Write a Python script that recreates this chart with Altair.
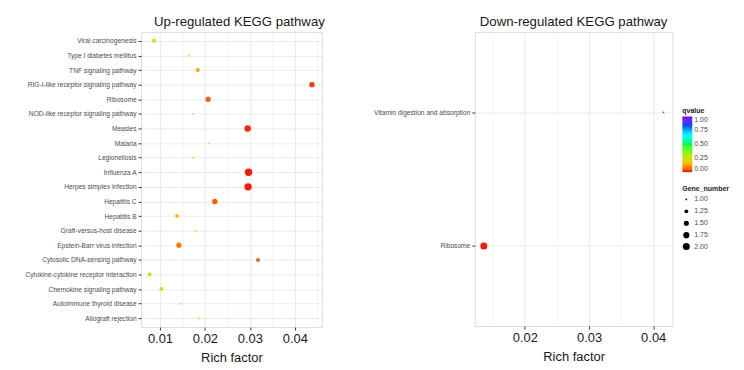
import altair as alt
import pandas as pd

FONT = "Liberation Sans"

# ---- Up-regulated (left panel), listed top to bottom ----
up_terms = [
    "Viral carcinogenesis", "Type I diabetes mellitus", "TNF signaling pathway",
    "RIG-I-like receptor signaling pathway", "Ribosome", "NOD-like receptor signaling pathway",
    "Measles", "Malaria", "Legionellosis", "Influenza A", "Herpes simplex infection",
    "Hepatitis C", "Hepatitis B", "Graft-versus-host disease", "Epstein-Barr virus infection",
    "Cytosolic DNA-sensing pathway", "Cytokine-cytokine receptor interaction",
    "Chemokine signaling pathway", "Autoimmune thyroid disease", "Allograft rejection",
]
up_rich = [0.0087, 0.0164, 0.0184, 0.0438, 0.0207, 0.0174, 0.0295, 0.0209, 0.0174, 0.0297,
           0.0296, 0.0222, 0.0138, 0.0179, 0.0142, 0.0318, 0.0077, 0.0103, 0.0146, 0.0187]
up_genes = [2, 1, 2, 3, 3, 1, 4, 1, 1, 5, 5, 3, 2, 1, 3, 2, 2, 2, 1, 1]
up_q = [0.28, 0.30, 0.13, 0.02, 0.05, 0.30, 0.01, 0.30, 0.30, 0.005,
        0.005, 0.05, 0.17, 0.30, 0.08, 0.05, 0.29, 0.28, 0.30, 0.30]

# ---- Down-regulated (right panel), top to bottom ----
down_terms = ["Vitamin digestion and absorption", "Ribosome"]
down_rich = [0.0416, 0.0136]
down_genes = [1, 2]
down_q = [0.01, 0.005]

up_major = [0.01, 0.02, 0.03, 0.04]
up_minor = [0.005, 0.015, 0.025, 0.035, 0.045]
down_major = [0.02, 0.03, 0.04]
down_minor = [0.015, 0.025, 0.035]

q_stops = [0, 1/6, 2/6, 3/6, 4/6, 5/6, 1]
q_colors = ["#FF0000", "#FFBF00", "#80FF00", "#00FF40", "#00FFFF", "#0040FF", "#8000FF"]

up_df = pd.DataFrame({"term": up_terms, "rich": up_rich, "genes": up_genes, "q": up_q})
down_df = pd.DataFrame({"term": down_terms, "rich": down_rich, "genes": down_genes, "q": down_q})

GRID = "#ebebeb"
MINOR = "#f4f4f4"


def panel(df, terms, xdom, major, minor, title, w, h, size_dom, size_range, show_legend, title_dx):
    color_legend = alt.Legend(
        title="qvalue", type="gradient", direction="vertical", values=[0, 0.25, 0.5, 0.75, 1],
        format=".2f", gradientLength=56, gradientThickness=10, gradientStrokeWidth=0,
        titleFontSize=7, titleFontWeight="bold", labelFontSize=7, titleFont=FONT, labelFont=FONT,
        titleColor="#1a1a1a", labelColor="#4d4d4d", titlePadding=3,
        orient="none", legendX=w + 10, legendY=75,
    ) if show_legend else None
    size_legend = alt.Legend(
        title="Gene_number", values=[1, 1.25, 1.5, 1.75, 2], format=".2f",
        symbolFillColor="black", symbolStrokeWidth=0, symbolType="circle",
        titleFontSize=7, titleFontWeight="bold", labelFontSize=7, titleFont=FONT, labelFont=FONT,
        titleColor="#1a1a1a", labelColor="#4d4d4d", rowPadding=4, titlePadding=4,
        orient="none", legendX=w + 10, legendY=154,
    ) if show_legend else None

    yscale = alt.Scale(type="point", padding=0.6, domain=terms)
    xscale = alt.Scale(domain=xdom, nice=False, zero=False)

    pts = alt.Chart(df).mark_circle(opacity=1).encode(
        x=alt.X("rich:Q", scale=xscale, title="Rich factor",
                axis=alt.Axis(orient="bottom", values=major, format=".2f", grid=True, gridColor=GRID,
                              domain=False, tickColor="#333333", tickSize=3,
                              labelFontSize=13, labelColor="#1a1a1a", labelPadding=3,
                              titleFontSize=13, titleFontWeight="normal", titleColor="#1a1a1a",
                              titlePadding=6, labelFont=FONT, titleFont=FONT)),
        y=alt.Y("term:N", scale=yscale, sort=terms, title=None,
                axis=alt.Axis(orient="left", grid=True, gridColor=GRID, domain=False, tickColor="#333333",
                              tickSize=3, labelFontSize=6.7, labelColor="#4d4d4d",
                              labelPadding=2, labelFont=FONT)),
        color=alt.Color("q:Q", scale=alt.Scale(domain=q_stops, range=q_colors), legend=color_legend),
        size=alt.Size("genes:Q", scale=alt.Scale(domain=size_dom, range=size_range, zero=False),
                      legend=size_legend),
    )
    minor_layer = alt.Chart(df).mark_point(opacity=0).encode(
        x=alt.X("rich:Q", scale=xscale,
                axis=alt.Axis(orient="top", values=minor, grid=True, gridColor=MINOR, labels=False,
                              ticks=False, domain=False, title=None)),
        y=alt.Y("term:N", scale=yscale, sort=terms, axis=None),
    )
    return alt.layer(pts, minor_layer).resolve_axis(x="independent", y="independent").properties(
        width=w, height=h,
        title=alt.TitleParams(title, fontSize=13.3, font=FONT, fontWeight="normal",
                              color="#1a1a1a", anchor="middle", dx=title_dx, offset=4),
    )


left = panel(up_df, up_terms, [0.0058, 0.046], up_major, up_minor,
             "Up-regulated KEGG pathway", 182, 297, [1, 5], [3, 55], False, 8)
right = panel(down_df, down_terms, [0.0122, 0.043], down_major, down_minor,
              "Down-regulated KEGG pathway", 199, 296, [1, 2], [3, 50], True, 0)

chart = alt.hconcat(left, right, spacing=47).resolve_scale(
    color="independent", size="independent", x="independent", y="independent"
).configure_view(stroke="#333333", strokeWidth=1).configure(
    padding={"left": 16, "top": 5, "right": 5, "bottom": 5}
)

chart.save("out.html", embed_options={"renderer": "svg", "actions": False})
